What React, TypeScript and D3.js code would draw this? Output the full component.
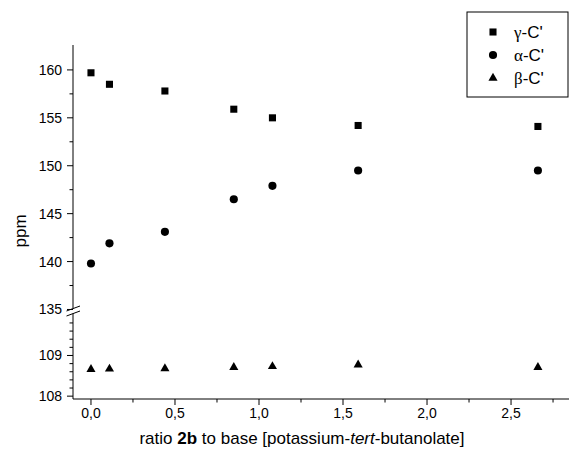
import React, { useEffect, useRef } from "react";
import * as d3 from "d3";

// ratio 2b : base
const ratios = [0, 0.11, 0.44, 0.85, 1.08, 1.59, 2.66];
const gammaC = [159.7, 158.5, 157.8, 155.9, 155.0, 154.2, 154.1];
const alphaC = [139.8, 141.9, 143.1, 146.5, 147.9, 149.5, 149.5];
const betaC = [108.66, 108.67, 108.68, 108.71, 108.73, 108.77, 108.71];

const greek = ["γ", "α", "β"];
const xTicks = [0, 0.5, 1.0, 1.5, 2.0, 2.5];
const xMinor = [0.25, 0.75, 1.25, 1.75, 2.25, 2.75];
const upperTicks = [135, 140, 145, 150, 155, 160];
const upperMinor = [137.5, 142.5, 147.5, 152.5, 157.5];
const lowerTicks = [108, 109];
const lowerMinor = [108.2, 108.4, 108.6, 108.8, 109.2, 109.4, 109.6, 109.8];

const App = () => {
  const svgRef = useRef<SVGSVGElement>(null);

  useEffect(() => {
    const svg = d3.select(svgRef.current);
    svg.selectAll("*").remove();
    const font = "'Liberation Sans', Arial, sans-serif";

    const x = d3.scaleLinear().domain([-0.107, 2.845]).range([73, 569]);
    const yUp = d3.scaleLinear().domain([135.3, 162.6]).range([306.6, 45]);
    const yLow = d3.scaleLinear().domain([107.93, 110.02]).range([399, 314]);
    const axisX = 73;
    const axisY = 399;

    const g = svg.append("g").attr("stroke", "#000").attr("fill", "none");

    // y axis, broken in two pieces
    g.append("line").attr("x1", axisX).attr("x2", axisX).attr("y1", 45).attr("y2", 308.5);
    g.append("line").attr("x1", axisX).attr("x2", axisX).attr("y1", 313.5).attr("y2", axisY);
    // break marks
    g.append("line").attr("x1", 66.5).attr("y1", 311).attr("x2", 80).attr("y2", 306);
    g.append("line").attr("x1", 66.5).attr("y1", 316).attr("x2", 80).attr("y2", 311);

    // x axis
    g.append("line").attr("x1", axisX).attr("x2", 569).attr("y1", axisY).attr("y2", axisY);

    xTicks.forEach((t) => {
      g.append("line").attr("x1", x(t)).attr("x2", x(t)).attr("y1", axisY).attr("y2", axisY + 6);
    });
    xMinor.forEach((t) => {
      g.append("line").attr("x1", x(t)).attr("x2", x(t)).attr("y1", axisY).attr("y2", axisY + 3.5);
    });
    upperTicks.forEach((t) => {
      g.append("line").attr("x1", axisX - 6).attr("x2", axisX).attr("y1", yUp(t)).attr("y2", yUp(t));
    });
    upperMinor.forEach((t) => {
      g.append("line").attr("x1", axisX - 3.5).attr("x2", axisX).attr("y1", yUp(t)).attr("y2", yUp(t));
    });
    lowerTicks.forEach((t) => {
      g.append("line").attr("x1", axisX - 6).attr("x2", axisX).attr("y1", yLow(t)).attr("y2", yLow(t));
    });
    lowerMinor.forEach((t) => {
      g.append("line").attr("x1", axisX - 3.5).attr("x2", axisX).attr("y1", yLow(t)).attr("y2", yLow(t));
    });

    const labels = svg.append("g").attr("font-family", font).attr("font-size", 14).attr("fill", "#000");
    const fmt = d3.format(".1f");
    xTicks.forEach((t) => {
      labels.append("text").attr("x", x(t)).attr("y", 418).attr("text-anchor", "middle")
        .text(fmt(t).replace(".", ","));
    });
    upperTicks.forEach((t) => {
      labels.append("text").attr("x", 62).attr("y", yUp(t) + 5).attr("text-anchor", "end").text(t);
    });
    lowerTicks.forEach((t) => {
      labels.append("text").attr("x", 62).attr("y", yLow(t) + 5).attr("text-anchor", "end").text(t);
    });

    // axis titles
    svg.append("text").attr("font-family", font).attr("font-size", 17)
      .attr("transform", "translate(26,231) rotate(-90)").attr("text-anchor", "middle").text("ppm");

    const xt = svg.append("text").attr("font-family", font).attr("font-size", 17)
      .attr("x", 302).attr("y", 444).attr("text-anchor", "middle");
    xt.append("tspan").text("ratio ");
    xt.append("tspan").attr("font-weight", "bold").text("2b");
    xt.append("tspan").text(" to base [potassium-");
    xt.append("tspan").attr("font-style", "italic").text("tert");
    xt.append("tspan").text("-butanolate]");

    // markers
    const shapes = [d3.symbolSquare, d3.symbolCircle, d3.symbolTriangle];
    const sizes = [50, 52, 36];
    const series = [gammaC, alphaC, betaC];
    const scales = [yUp, yUp, yLow];
    series.forEach((vals, i) => {
      const sym = d3.symbol().type(shapes[i]).size(sizes[i]);
      svg.append("g").selectAll("path").data(vals).enter().append("path")
        .attr("d", sym)
        .attr("transform", (d, j) => `translate(${x(ratios[j])},${scales[i](d)})`)
        .attr("fill", "#000");
    });

    // legend
    const leg = svg.append("g");
    leg.append("rect").attr("x", 467).attr("y", 12).attr("width", 101).attr("height", 85)
      .attr("fill", "#fff").attr("stroke", "#000");
    greek.forEach((gr, i) => {
      const yy = 32 + i * 23;
      const sym = d3.symbol().type(shapes[i]).size(sizes[i]);
      leg.append("path").attr("d", sym).attr("transform", `translate(493,${yy})`).attr("fill", "#000");
      const t = leg.append("text").attr("x", 514).attr("y", yy + 6).attr("font-family", font)
        .attr("font-size", 17);
      t.append("tspan").attr("font-family", "'Liberation Serif', 'Times New Roman', serif").text(gr);
      t.append("tspan").text("-C'");
    });
  }, []);

  return (
    <div style={{ position: "absolute", left: 0, top: 0 }}>
      <svg ref={svgRef} width={569} height={450} style={{ display: "block", background: "#fff" }} />
    </div>
  );
};

export default App;
